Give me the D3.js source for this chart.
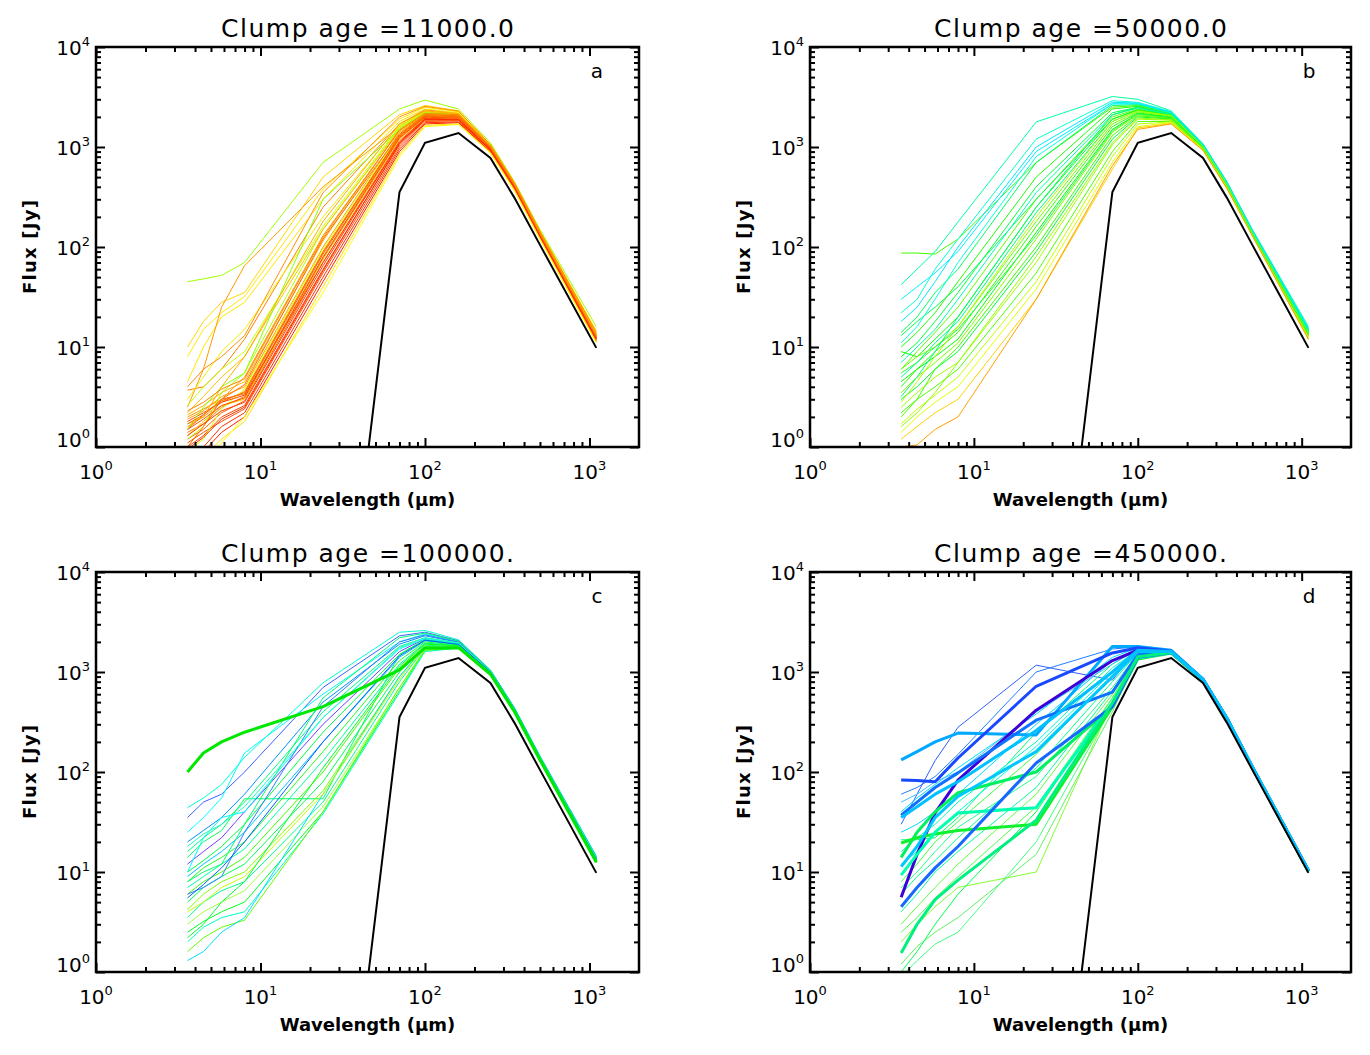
<!DOCTYPE html>
<html>
<head>
<meta charset="utf-8">
<script src="https://cdn.jsdelivr.net/npm/d3@7"></script>
<style>
  body { margin: 0; background: #fff; }
  text { font-family: "DejaVu Sans", sans-serif; fill: #000; }
</style>
</head>
<body>
<div id="chart"></div>
<script>
// wavelengths of the SED points (micron)
const wavelengths = [3.6, 4.5, 5.8, 8.0, 24, 70, 100, 160, 250, 350, 500, 1100];

// the starless (black) SED, same in every panel
const blackFlux = [null, null, null, null, 1.7e-4, 355, 1100, 1380, 776, 310, 105, 9.8];

const clumpAges = ["11000.0", "50000.0", "100000.", "450000."];
const panelLetters = ["a", "b", "c", "d"];

const xMajor = [1, 10, 100, 1000];
const yMajor = [1, 10, 100, 1000, 10000];

// ---- panel a : 11000 yr ----
const fluxA = [
    [0.8, 1.0, 1.6, 2.2, 50, 950, 1750, 1780, 900, 380, 125, 11.5],
    [1.0, 1.3, 2.0, 2.6, 60, 1050, 1850, 1850, 930, 390, 128, 12],
    [1.2, 1.5, 2.2, 2.9, 70, 1150, 1950, 1900, 950, 400, 130, 12.2],
    [1.4, 1.7, 2.5, 3.2, 80, 1250, 2000, 1950, 970, 405, 132, 12.4],
    [1.6, 2.0, 2.8, 3.6, 90, 1300, 2050, 2000, 980, 410, 133, 12.5],
    [1.9, 2.3, 3.2, 4.0, 100, 1400, 2100, 2050, 1000, 415, 135, 12.7],
    [2.1, 2.6, 3.5, 4.5, 115, 1500, 2150, 2100, 1010, 420, 137, 12.9],
    [0.6, 0.9, 1.4, 2.0, 45, 900, 1700, 1750, 890, 375, 123, 11.3],
    [1.1, 1.4, 1.8, 2.4, 55, 1000, 1800, 1820, 920, 385, 127, 11.8],
    [1.3, 1.8, 2.6, 3.0, 75, 1200, 1980, 1930, 960, 402, 131, 12.3],
    [1.5, 2.1, 3.0, 3.4, 85, 1280, 2030, 1980, 975, 408, 132, 12.4],
    [0.9, 1.2, 2.4, 3.8, 95, 1350, 2080, 2020, 990, 412, 134, 12.6],
    [0.7, 0.8, 1.2, 1.8, 40, 850, 1650, 1700, 880, 370, 122, 11.2],
    [2.0, 2.4, 3.0, 5.0, 130, 1450, 2120, 2080, 1005, 418, 136, 12.8],
    [1.8, 2.2, 2.8, 3.3, 70, 1100, 1900, 1880, 940, 395, 129, 12.1],
    [1.2, 1.6, 3.5, 5.5, 150, 1550, 2200, 2150, 1020, 425, 138, 13],
    [45, 48, 52, 70, 700, 2400, 2950, 2400, 1100, 450, 150, 16],
    [10, 18, 28, 35, 500, 2100, 2600, 2300, 1060, 440, 145, 14.5],
    [8, 15, 22, 32, 380, 1900, 2500, 2250, 1050, 435, 143, 14],
    [4.5, 10, 20, 28, 300, 1800, 2400, 2200, 1040, 430, 142, 13.8],
    [3.7, 4.0, 6, 12, 250, 1700, 2350, 2150, 1030, 428, 141, 13.5],
    [2.5, 6, 25, 65, 400, 1600, 2300, 2150, 1020, 425, 140, 13.5],
    [3.0, 5, 9, 15, 200, 1650, 2300, 2150, 1025, 426, 140, 13.4],
    [2.6, 4, 6, 9, 160, 1600, 2250, 2100, 1015, 422, 139, 13.2],
    [2.2, 3.2, 5, 8, 150, 1500, 2250, 2120, 1010, 420, 138, 13.1],
    [1.5, 2.5, 4, 5.5, 300, 1500, 2200, 2100, 1010, 420, 138, 13],
    [0.5, 0.7, 1.1, 2.0, 35, 800, 1600, 1680, 870, 365, 120, 11],
    [1.0, 1.6, 3.0, 4.2, 120, 1350, 2100, 2050, 995, 414, 135, 12.7],
    [1.7, 2.0, 4, 8, 180, 1700, 2300, 2150, 1020, 425, 139, 13.3],
    [4, 6, 8, 13, 350, 2000, 2550, 2280, 1055, 438, 144, 14],
    [1.3, 1.7, 2.3, 2.8, 65, 1120, 1920, 1890, 945, 398, 130, 12.2],
    [1.5, 1.9, 2.6, 3.1, 78, 1230, 1990, 1940, 965, 404, 131, 12.3],
    [1.7, 2.1, 2.9, 3.5, 88, 1320, 2060, 2010, 985, 411, 133, 12.5],
    [0.95, 1.25, 1.9, 2.5, 58, 1080, 1880, 1870, 935, 392, 128, 12],
    [2.3, 2.8, 3.8, 4.8, 125, 1480, 2160, 2110, 1012, 421, 137, 13]
];
const colorsA = ["#ff3000", "#ff4a00", "#ff6000", "#ff7800", "#ff8c00", "#ffa000", "#ffb400", "#ff2000",
    "#ff5500", "#ffc800", "#ff6a00", "#d8ff00", "#ffe000", "#ff9600", "#ff4000", "#b0ff00",
    "#a0ff00", "#ffd700", "#ffea00", "#ffe600", "#ff8000", "#ff9a00", "#f0f000", "#c8ff00",
    "#ffc000", "#90ff00", "#ffff00", "#ff7000", "#ffb000", "#ff9000",
    "#ff3a00", "#ff5000", "#ff6800", "#ff2800", "#ff8400"];
const thickA = [];

// ---- panel b : 50000 yr ----
const fluxB = [
    [87, 87, 85, 120, 700, 2500, 2600, 2200, 1050, 440, 145, 15],
    [42, 60, 90, 178, 1780, 3200, 3000, 2300, 1080, 450, 150, 16],
    [22, 30, 60, 120, 1200, 2900, 2800, 2250, 1070, 445, 148, 15.5],
    [30, 40, 55, 90, 900, 2700, 2700, 2200, 1060, 442, 146, 15],
    [14, 20, 35, 60, 700, 2600, 2650, 2200, 1055, 440, 145, 15],
    [10, 14, 22, 45, 500, 2400, 2550, 2150, 1040, 435, 143, 14.5],
    [8, 11, 18, 35, 400, 2200, 2500, 2120, 1030, 430, 142, 14.2],
    [6, 9, 14, 25, 300, 2000, 2400, 2100, 1020, 428, 141, 14],
    [5, 7, 11, 18, 220, 1800, 2300, 2050, 1010, 425, 140, 13.8],
    [4, 6, 9, 14, 160, 1600, 2200, 2000, 1000, 420, 138, 13.5],
    [3.5, 5, 7, 11, 120, 1400, 2100, 1950, 990, 415, 137, 13.3],
    [3, 4, 6, 9, 90, 1200, 2000, 1900, 980, 410, 136, 13],
    [2.5, 3.5, 5, 7, 70, 1050, 1900, 1850, 970, 405, 134, 12.8],
    [2, 3, 4, 6, 55, 900, 1800, 1800, 960, 400, 133, 12.5],
    [1.7, 2.4, 3.3, 5, 45, 800, 1700, 1780, 950, 395, 132, 12.3],
    [1.4, 2, 2.8, 4, 38, 700, 1600, 1750, 940, 390, 131, 12.1],
    [1.2, 1.6, 2.2, 3, 30, 600, 1550, 1720, 930, 385, 130, 12],
    [1.0, 1.05, 1.5, 2.0, 30, 650, 1500, 1700, 925, 383, 129, 11.9],
    [13, 18, 25, 40, 300, 1900, 2350, 2100, 1015, 426, 140, 14],
    [9, 8, 12, 20, 250, 1900, 2350, 2080, 1012, 424, 139, 13.9],
    [7, 10, 15, 30, 350, 2100, 2450, 2120, 1025, 429, 141, 14.1],
    [6, 8, 10, 16, 180, 1700, 2250, 2030, 1005, 422, 139, 13.6],
    [4.5, 6, 8, 12, 140, 1500, 2150, 1980, 995, 418, 138, 13.4],
    [3.2, 5, 9, 20, 250, 2100, 2500, 2150, 1030, 430, 142, 14.2],
    [2.2, 3, 6, 10, 100, 1300, 2050, 1920, 985, 412, 136, 13.1],
    [1.6, 2.2, 3.5, 7, 80, 1100, 1950, 1870, 975, 407, 135, 12.9],
    [11, 16, 30, 70, 800, 2700, 2700, 2200, 1060, 442, 146, 15],
    [18, 25, 45, 100, 1000, 2800, 2750, 2230, 1065, 444, 147, 15.2],
    [2.8, 4.5, 8, 16, 200, 1800, 2300, 2060, 1012, 423, 139, 13.7],
    [5.5, 7, 10, 15, 130, 1450, 2150, 1970, 992, 416, 137, 13.4]
];
const colorsB = ["#40ff00", "#00ffa0", "#00ffd0", "#00f0ff", "#00ff60", "#20ff00", "#00ff40", "#60ff00",
    "#00ff80", "#30ff00", "#80ff00", "#00ff30", "#a0ff00", "#50ff00", "#c0ff00", "#e0ff00",
    "#ffd000", "#ffa000", "#00ff50", "#10ff00", "#00ffb0", "#70ff00", "#00ff00", "#00ff70",
    "#40ff00", "#90ff00", "#00ffe0", "#00e8ff", "#b0ff00", "#20ff40"];
const thickB = [];

// ---- panel c : 100000 yr ----
const fluxC = [
    [100, 155, 200, 250, 450, 1050, 1740, 1750, 950, 400, 132, 12.5],
    [44, 55, 75, 140, 780, 2500, 2600, 2100, 1050, 440, 145, 14.5],
    [35, 50, 60, 100, 700, 2300, 2500, 2050, 1040, 435, 143, 14.2],
    [25, 35, 55, 155, 600, 2000, 2400, 2000, 1030, 430, 142, 14],
    [20, 26, 35, 60, 500, 1900, 2300, 1980, 1020, 425, 140, 13.8],
    [16, 22, 30, 50, 400, 1800, 2200, 1950, 1010, 422, 139, 13.6],
    [14, 20, 26, 54, 54, 1500, 2100, 1900, 1000, 418, 138, 13.4],
    [12, 16, 22, 40, 300, 1600, 2150, 1920, 1005, 420, 138, 13.5],
    [10, 13, 18, 30, 250, 1500, 2100, 1900, 1000, 418, 138, 13.4],
    [9, 12, 16, 25, 200, 1400, 2050, 1880, 995, 416, 137, 13.3],
    [8, 11, 14, 20, 160, 1300, 2000, 1860, 990, 414, 136, 13.2],
    [7, 9, 12, 17, 130, 1200, 1950, 1840, 985, 412, 136, 13.1],
    [6, 8, 10, 14, 100, 1100, 1900, 1820, 980, 410, 135, 13],
    [5, 7, 9, 12, 80, 1000, 1850, 1800, 975, 408, 134, 12.9],
    [4.2, 6, 8, 10, 65, 900, 1800, 1780, 970, 405, 133, 12.8],
    [3.5, 5, 6.5, 8, 50, 800, 1750, 1760, 965, 403, 133, 12.7],
    [3, 4, 5, 6.5, 45, 700, 1700, 1750, 960, 400, 132, 12.6],
    [2.5, 3.2, 4, 5, 40, 650, 1650, 1740, 955, 398, 131, 12.5],
    [2, 2.8, 3.5, 4, 38, 620, 1600, 1730, 950, 396, 131, 12.4],
    [1.6, 2.2, 2.8, 3.3, 40, 700, 1650, 1740, 955, 398, 131, 12.5],
    [1.3, 1.6, 2.5, 3.5, 60, 900, 1800, 1780, 970, 405, 133, 12.8],
    [10, 22, 35, 40, 350, 1700, 2150, 1930, 1008, 421, 139, 13.6],
    [6, 7, 9, 25, 450, 2000, 2350, 2000, 1025, 428, 141, 13.9],
    [8, 10, 12, 30, 550, 2200, 2450, 2030, 1035, 432, 142, 14.1],
    [18, 24, 30, 45, 350, 1750, 2200, 1950, 1012, 423, 139, 13.7],
    [4, 5, 7, 9, 60, 850, 1780, 1770, 968, 404, 133, 12.8],
    [5.5, 7.5, 11, 20, 200, 1450, 2080, 1890, 998, 417, 137, 13.4],
    [2.2, 3, 5, 8, 110, 1150, 1920, 1830, 982, 411, 135, 13]
];
const colorsC = ["#00e800", "#00ffd0", "#4060ff", "#00ffff", "#0090ff", "#00ff80", "#00ff60", "#7040ff",
    "#00ff40", "#00c0ff", "#20ff20", "#00ffa0", "#40ff00", "#00ff50", "#80ff00", "#00ff90",
    "#a0ff40", "#00ff20", "#00ffc0", "#60ff00", "#00e0ff", "#00ffff", "#3080ff", "#00ff70",
    "#20ffc0", "#c0ff00", "#0060ff", "#00ff30"];
const thickC = [0];

// ---- panel d : 450000 yr ----
const fluxD = [
    [60, 70, 90, 150, 1000, 1700, 1780, 1640, 848, 345, 112, 10.3],
    [30, 60, 130, 280, 1170, 830, 1700, 1620, 845, 344, 112, 10.3],
    [40, 55, 75, 110, 380, 1400, 1750, 1630, 848, 345, 112, 10.3],
    [21, 21, 22, 35, 250, 1200, 1700, 1620, 845, 344, 112, 10.3],
    [16, 22, 30, 50, 200, 1100, 1650, 1610, 842, 343, 112, 10.3],
    [8, 12, 20, 32, 150, 900, 1600, 1600, 840, 343, 112, 10.3],
    [6, 9, 13, 22, 110, 800, 1550, 1590, 838, 342, 112, 10.2],
    [3, 4.5, 7, 12, 60, 600, 1500, 1580, 835, 342, 111, 10.2],
    [2, 3, 4.5, 7, 10, 500, 1450, 1570, 832, 341, 111, 10.2],
    [1.2, 1.8, 2.5, 3.5, 15, 400, 1420, 1570, 832, 341, 111, 10.2],
    [0.9, 1.3, 1.9, 2.5, 20, 450, 1430, 1570, 832, 341, 111, 10.2],
    [1, 1.6, 3, 6, 40, 550, 1460, 1575, 833, 341, 111, 10.2],
    [25, 30, 40, 60, 300, 1300, 1700, 1620, 845, 344, 112, 10.3],
    [50, 60, 80, 100, 400, 1200, 1680, 1615, 843, 343, 112, 10.3],
    [12, 16, 25, 40, 180, 1000, 1620, 1605, 841, 343, 112, 10.3],
    [7, 10, 16, 28, 90, 700, 1520, 1585, 836, 342, 111, 10.2],
    [4, 6, 10, 16, 70, 650, 1500, 1580, 835, 342, 111, 10.2],
    [2.5, 3.5, 5.5, 9, 45, 550, 1470, 1575, 834, 341, 111, 10.2],
    // thick curves
    [132, 160, 200, 245, 235, 1800, 1800, 1650, 850, 345, 113, 10.4],
    [83, 82, 80, 138, 720, 1550, 1750, 1620, 845, 344, 112, 10.3],
    [5.6, 15, 39, 83, 415, 1300, 1650, 1600, 840, 343, 112, 10.3],
    [37, 50, 70, 98, 330, 630, 1500, 1580, 835, 342, 111, 10.2],
    [14, 25, 40, 62, 100, 450, 1400, 1560, 830, 341, 111, 10.2],
    [19.5, 22, 24, 26, 30, 450, 1350, 1550, 828, 340, 111, 10.1],
    [9.3, 15, 25, 39, 44, 490, 1380, 1560, 830, 341, 111, 10.2],
    [4.5, 7, 11, 18, 123, 450, 1400, 1560, 830, 341, 111, 10.2],
    [1.55, 3, 5.3, 8.3, 33, 490, 1420, 1570, 832, 341, 111, 10.2],
    [11.3, 18, 35, 57, 160, 900, 1600, 1600, 840, 343, 112, 10.3],
    [35, 45, 60, 80, 260, 1000, 1650, 1610, 842, 343, 112, 10.3]
];
const colorsD = ["#2080ff", "#3060ff", "#00e0ff", "#00ff70", "#00ffc0", "#40ff40", "#00ff90", "#60ff40",
    "#80ff30", "#60f060", "#40ff80", "#00ff50", "#00d8ff", "#40c0ff", "#00ffe0", "#20ff90",
    "#00ffa0", "#50ff50",
    "#00a8ff", "#1848ff", "#3c00d8", "#1070ff", "#00f060", "#10f030", "#00ffb0", "#1868ff",
    "#00f080", "#00c8ff", "#00c0ff"];
const thickD = [18, 19, 20, 21, 22, 23, 24, 25, 26, 27, 28];

const panelFlux = [fluxA, fluxB, fluxC, fluxD];
const panelColors = [colorsA, colorsB, colorsC, colorsD];
const panelThick = [thickA, thickB, thickC, thickD];

// ---------------------------------------------------------------
const svg = d3.select("#chart").append("svg")
    .attr("width", 1370)
    .attr("height", 1055);

const panelBoxes = [
    {left: 96, top: 47, width: 543, height: 400},
    {left: 810, top: 47, width: 541, height: 400},
    {left: 96, top: 572, width: 543, height: 400},
    {left: 810, top: 572, width: 541, height: 400}
];

function powLabel(sel, exp) {
    sel.text("10");
    sel.append("tspan")
        .attr("dy", "-9")
        .style("font-size", "13px")
        .text(exp);
}

function minorTicks(domain) {
    let ticks = [];
    for (let dec = Math.floor(Math.log10(domain[0])); dec <= Math.ceil(Math.log10(domain[1])); dec++) {
        for (let m = 2; m <= 9; m++) {
            let v = m * Math.pow(10, dec);
            if (v > domain[0] && v < domain[1]) ticks.push(v);
        }
    }
    return ticks;
}

panelBoxes.forEach((box, i) => {
    let g = svg.append("g").attr("transform", `translate(${box.left},${box.top})`);

    let x = d3.scaleLog().domain([1, 2000]).range([0, box.width]);
    let y = d3.scaleLog().domain([1, 10000]).range([box.height, 0]);

    g.append("clipPath").attr("id", "clip" + i)
        .append("rect")
        .attr("width", box.width)
        .attr("height", box.height);

    let line = d3.line()
        .defined(d => d[1] != null)
        .x(d => x(d[0]))
        .y(d => y(d[1]));

    let plot = g.append("g").attr("clip-path", `url(#clip${i})`);

    let seds = panelFlux[i].map((f, k) => ({
        pts: wavelengths.map((w, j) => [w, f[j]]),
        color: panelColors[i][k],
        thick: panelThick[i].includes(k)
    }));
    // thin curves first, thick ones on top
    seds.sort((p, q) => p.thick - q.thick);

    plot.selectAll(".sed")
        .data(seds)
        .join("path")
        .attr("class", "sed")
        .attr("d", d => line(d.pts))
        .attr("fill", "none")
        .attr("stroke", d => d.color)
        .attr("stroke-width", d => d.thick ? 3 : 1)
        .attr("stroke-linejoin", "round");

    plot.append("path")
        .attr("d", line(wavelengths.map((w, j) => [w, blackFlux[j]])))
        .attr("fill", "none")
        .attr("stroke", "#000")
        .attr("stroke-width", 2);

    // axes: ticks pointing inward on all four sides
    let xMinor = minorTicks(x.domain());
    let yMinor = minorTicks(y.domain());
    let axes = [
        [d3.axisBottom(x), `translate(0,${box.height})`, xMajor, xMinor],
        [d3.axisTop(x), null, xMajor, xMinor],
        [d3.axisLeft(y), null, yMajor, yMinor],
        [d3.axisRight(y), `translate(${box.width},0)`, yMajor, yMinor]
    ];
    axes.forEach(([ax, tr, major, minor]) => {
        [[major, 9], [minor, 5]].forEach(([vals, len]) => {
            let a = g.append("g")
                .call(ax.tickValues(vals).tickSize(-len).tickFormat(""));
            if (tr) a.attr("transform", tr);
            a.select(".domain").remove();
            a.selectAll("line").attr("stroke", "#000").attr("stroke-width", 2);
        });
    });

    g.append("rect")
        .attr("width", box.width)
        .attr("height", box.height)
        .attr("fill", "none")
        .attr("stroke", "#000")
        .attr("stroke-width", 2.5);

    // tick labels
    xMajor.forEach((v, k) => {
        g.append("text")
            .attr("x", x(v))
            .attr("y", box.height + 32)
            .attr("text-anchor", "middle")
            .style("font-size", "20px")
            .call(s => powLabel(s, k));
    });
    yMajor.forEach((v, k) => {
        g.append("text")
            .attr("x", -6)
            .attr("y", y(v) + (k === 0 ? 0 : 8))
            .attr("text-anchor", "end")
            .style("font-size", "20px")
            .call(s => powLabel(s, k));
    });

    // titles and labels
    g.append("text")
        .attr("x", box.width / 2)
        .attr("y", -10)
        .attr("text-anchor", "middle")
        .attr("textLength", 293)
        .attr("lengthAdjust", "spacing")
        .style("font-size", "25px")
        .text("Clump age =" + clumpAges[i]);

    g.append("text")
        .attr("x", box.width / 2)
        .attr("y", box.height + 59)
        .attr("text-anchor", "middle")
        .style("font-size", "18px")
        .style("font-weight", "bold")
        .text("Wavelength (μm)");

    g.append("text")
        .attr("transform", `translate(-60,${box.height / 2}) rotate(-90)`)
        .attr("text-anchor", "middle")
        .attr("textLength", 94)
        .attr("lengthAdjust", "spacing")
        .style("font-size", "18px")
        .style("font-weight", "bold")
        .text("Flux [Jy]");

    g.append("text")
        .attr("x", box.width - 42)
        .attr("y", 31)
        .attr("text-anchor", "middle")
        .style("font-size", "20px")
        .text(panelLetters[i]);
});
</script>
</body>
</html>
